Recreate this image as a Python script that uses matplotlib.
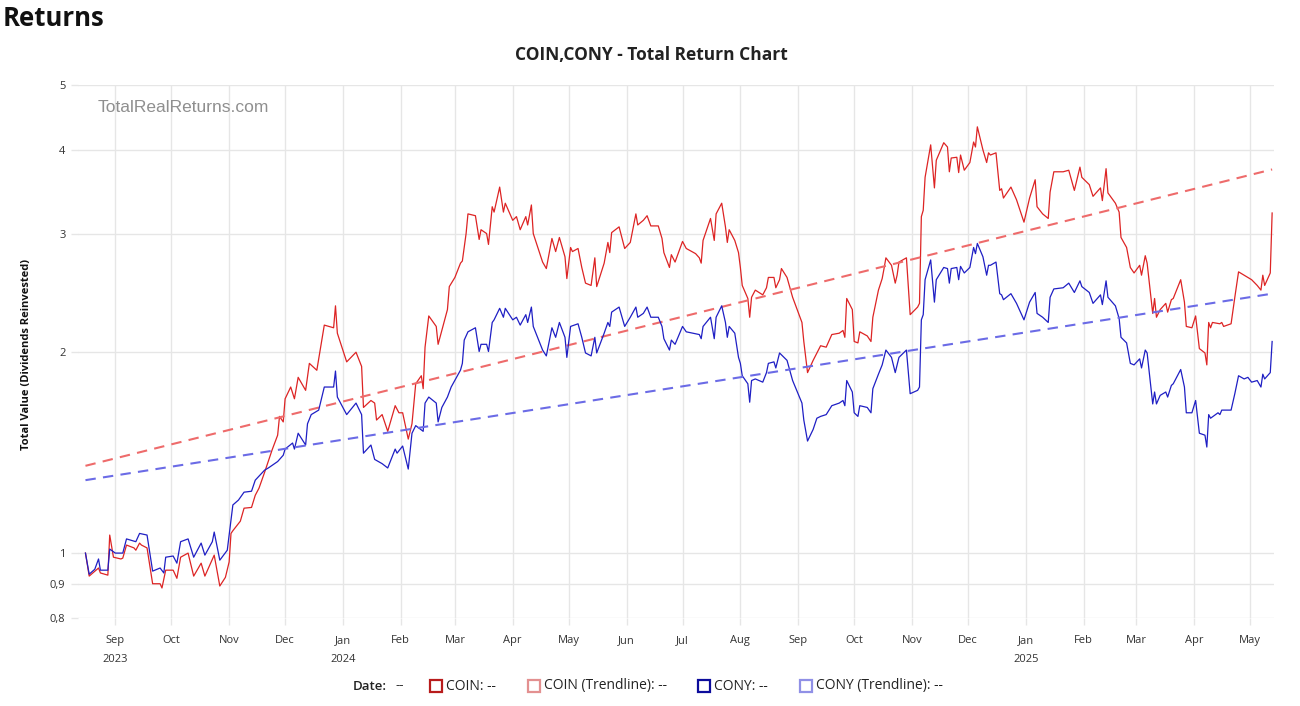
import matplotlib
matplotlib.use("Agg")
import matplotlib.pyplot as plt
from matplotlib.patches import Rectangle
from matplotlib.ticker import NullLocator
import pandas as pd

# Total value (dividends reinvested)
coin_points = [
    ("2023-08-16", 1.00), ("2023-08-18", 0.924), ("2023-08-23", 0.95), ("2023-08-24", 0.934),
    ("2023-08-28", 0.927), ("2023-08-29", 1.064), ("2023-08-31", 0.986),
    ("2023-09-04", 0.98), ("2023-09-05", 0.983), ("2023-09-07", 1.028), ("2023-09-11", 1.018),
    ("2023-09-12", 1.01), ("2023-09-14", 1.035), ("2023-09-15", 1.028), ("2023-09-18", 1.018),
    ("2023-09-21", 0.90), ("2023-09-25", 0.90), ("2023-09-26", 0.887), ("2023-09-28", 0.943),
    ("2023-10-02", 0.943), ("2023-10-04", 0.917), ("2023-10-06", 0.986), ("2023-10-10", 1.00),
    ("2023-10-13", 0.924), ("2023-10-17", 0.966), ("2023-10-19", 0.924), ("2023-10-24", 0.993),
    ("2023-10-27", 0.893), ("2023-10-30", 0.92),
    ("2023-11-01", 0.97), ("2023-11-02", 1.07), ("2023-11-03", 1.08), ("2023-11-07", 1.116),
    ("2023-11-09", 1.167), ("2023-11-13", 1.17), ("2023-11-15", 1.22), ("2023-11-17", 1.25),
    ("2023-11-20", 1.32), ("2023-11-24", 1.425), ("2023-11-27", 1.50), ("2023-11-28", 1.60),
    ("2023-11-30", 1.57),
    ("2023-12-01", 1.70), ("2023-12-04", 1.77), ("2023-12-06", 1.70), ("2023-12-08", 1.83),
    ("2023-12-12", 1.75), ("2023-12-14", 1.92), ("2023-12-18", 1.875), ("2023-12-22", 2.19),
    ("2023-12-27", 2.17), ("2023-12-28", 2.34), ("2023-12-29", 2.13),
    ("2024-01-03", 1.93), ("2024-01-08", 1.995), ("2024-01-11", 1.90), ("2024-01-12", 1.65),
    ("2024-01-16", 1.69), ("2024-01-18", 1.675), ("2024-01-19", 1.58), ("2024-01-22", 1.61),
    ("2024-01-25", 1.52), ("2024-01-29", 1.66), ("2024-01-31", 1.62),
    ("2024-02-02", 1.62), ("2024-02-05", 1.48), ("2024-02-07", 1.56), ("2024-02-09", 1.79),
    ("2024-02-12", 1.84), ("2024-02-13", 1.76), ("2024-02-14", 2.03), ("2024-02-16", 2.26),
    ("2024-02-20", 2.18), ("2024-02-21", 2.05), ("2024-02-23", 2.15), ("2024-02-26", 2.31),
    ("2024-02-27", 2.50),
    ("2024-03-01", 2.58), ("2024-03-04", 2.71), ("2024-03-05", 2.73), ("2024-03-07", 3.00),
    ("2024-03-08", 3.21), ("2024-03-12", 3.19), ("2024-03-14", 2.94), ("2024-03-15", 3.04),
    ("2024-03-18", 3.00), ("2024-03-19", 2.89), ("2024-03-21", 3.29), ("2024-03-22", 3.23),
    ("2024-03-25", 3.52), ("2024-03-27", 3.23), ("2024-03-28", 3.33),
    ("2024-04-01", 3.14), ("2024-04-03", 3.18), ("2024-04-05", 3.04), ("2024-04-08", 3.18),
    ("2024-04-09", 3.09), ("2024-04-11", 3.31), ("2024-04-12", 3.00), ("2024-04-17", 2.72),
    ("2024-04-19", 2.66), ("2024-04-22", 2.95), ("2024-04-24", 2.82), ("2024-04-26", 2.96),
    ("2024-04-29", 2.77), ("2024-04-30", 2.57),
    ("2024-05-02", 2.86), ("2024-05-03", 2.82), ("2024-05-06", 2.85), ("2024-05-08", 2.67),
    ("2024-05-10", 2.53), ("2024-05-13", 2.51), ("2024-05-15", 2.76), ("2024-05-16", 2.50),
    ("2024-05-20", 2.71), ("2024-05-22", 2.91), ("2024-05-23", 2.81), ("2024-05-24", 3.01),
    ("2024-05-28", 3.07), ("2024-05-31", 2.85),
    ("2024-06-03", 2.91), ("2024-06-06", 3.21), ("2024-06-07", 3.09), ("2024-06-10", 3.14),
    ("2024-06-12", 3.19), ("2024-06-14", 3.08), ("2024-06-18", 3.08), ("2024-06-20", 2.95),
    ("2024-06-21", 2.81), ("2024-06-24", 2.67), ("2024-06-25", 2.79), ("2024-06-27", 2.72),
    ("2024-07-01", 2.92), ("2024-07-03", 2.85), ("2024-07-08", 2.80), ("2024-07-10", 2.76),
    ("2024-07-11", 2.71), ("2024-07-12", 2.93), ("2024-07-16", 3.16), ("2024-07-18", 2.93),
    ("2024-07-19", 3.21), ("2024-07-22", 3.33), ("2024-07-24", 3.07), ("2024-07-25", 2.91),
    ("2024-07-26", 3.04), ("2024-07-29", 2.93), ("2024-07-31", 2.81),
    ("2024-08-01", 2.67), ("2024-08-02", 2.51), ("2024-08-05", 2.40), ("2024-08-06", 2.25),
    ("2024-08-07", 2.41), ("2024-08-09", 2.47), ("2024-08-13", 2.43), ("2024-08-15", 2.49),
    ("2024-08-16", 2.58), ("2024-08-19", 2.58), ("2024-08-20", 2.49), ("2024-08-22", 2.56),
    ("2024-08-23", 2.66), ("2024-08-26", 2.58), ("2024-08-29", 2.41),
    ("2024-09-03", 2.21), ("2024-09-04", 2.07), ("2024-09-06", 1.86), ("2024-09-09", 1.94),
    ("2024-09-11", 1.99), ("2024-09-13", 2.04), ("2024-09-16", 2.03), ("2024-09-19", 2.12),
    ("2024-09-23", 2.13), ("2024-09-25", 2.15), ("2024-09-26", 2.10), ("2024-09-27", 2.40),
    ("2024-09-30", 2.31),
    ("2024-10-01", 2.07), ("2024-10-03", 2.06), ("2024-10-04", 2.14), ("2024-10-08", 2.11),
    ("2024-10-10", 2.07), ("2024-10-11", 2.25), ("2024-10-14", 2.47), ("2024-10-16", 2.57),
    ("2024-10-17", 2.66), ("2024-10-18", 2.76), ("2024-10-21", 2.69), ("2024-10-23", 2.53),
    ("2024-10-24", 2.60), ("2024-10-25", 2.72), ("2024-10-29", 2.76), ("2024-10-31", 2.27),
    ("2024-11-04", 2.33), ("2024-11-05", 2.36), ("2024-11-06", 3.18), ("2024-11-07", 3.25),
    ("2024-11-08", 3.64), ("2024-11-11", 4.07), ("2024-11-13", 3.51), ("2024-11-14", 3.86),
    ("2024-11-18", 4.10), ("2024-11-20", 4.04), ("2024-11-21", 3.71), ("2024-11-22", 3.89),
    ("2024-11-25", 3.90), ("2024-11-26", 3.70), ("2024-11-27", 3.93), ("2024-11-29", 3.73),
    ("2024-12-02", 3.83), ("2024-12-04", 4.11), ("2024-12-05", 4.04), ("2024-12-06", 4.33),
    ("2024-12-09", 4.00), ("2024-12-11", 3.83), ("2024-12-12", 3.96), ("2024-12-13", 3.93),
    ("2024-12-16", 3.96), ("2024-12-18", 3.48), ("2024-12-19", 3.50), ("2024-12-20", 3.39),
    ("2024-12-24", 3.52), ("2024-12-27", 3.37), ("2024-12-31", 3.12),
    ("2025-01-03", 3.39), ("2025-01-06", 3.61), ("2025-01-07", 3.29), ("2025-01-10", 3.21),
    ("2025-01-13", 3.16), ("2025-01-14", 3.46), ("2025-01-16", 3.71), ("2025-01-21", 3.71),
    ("2025-01-24", 3.73), ("2025-01-27", 3.48), ("2025-01-30", 3.77), ("2025-01-31", 3.64),
    ("2025-02-04", 3.55), ("2025-02-06", 3.41), ("2025-02-10", 3.51), ("2025-02-11", 3.36),
    ("2025-02-13", 3.75), ("2025-02-14", 3.45), ("2025-02-18", 3.33), ("2025-02-20", 3.23),
    ("2025-02-21", 2.96), ("2025-02-24", 2.86), ("2025-02-26", 2.67), ("2025-02-28", 2.62),
    ("2025-03-03", 2.69), ("2025-03-04", 2.60), ("2025-03-06", 2.78), ("2025-03-07", 2.71),
    ("2025-03-10", 2.28), ("2025-03-11", 2.40), ("2025-03-12", 2.25), ("2025-03-14", 2.31),
    ("2025-03-17", 2.36), ("2025-03-18", 2.29), ("2025-03-20", 2.39), ("2025-03-21", 2.40),
    ("2025-03-25", 2.56), ("2025-03-27", 2.37), ("2025-03-28", 2.18), ("2025-03-31", 2.17),
    ("2025-04-02", 2.26), ("2025-04-04", 2.02), ("2025-04-07", 1.99), ("2025-04-08", 1.91),
    ("2025-04-09", 2.21), ("2025-04-10", 2.17), ("2025-04-11", 2.21), ("2025-04-15", 2.20),
    ("2025-04-16", 2.21), ("2025-04-17", 2.18), ("2025-04-21", 2.20), ("2025-04-23", 2.41),
    ("2025-04-25", 2.63), ("2025-04-28", 2.60), ("2025-04-30", 2.58),
    ("2025-05-02", 2.56), ("2025-05-05", 2.51), ("2025-05-07", 2.47), ("2025-05-08", 2.60),
    ("2025-05-09", 2.51), ("2025-05-12", 2.62), ("2025-05-13", 3.22),
]

cony_points = [
    ("2023-08-16", 1.00), ("2023-08-18", 0.93), ("2023-08-21", 0.946), ("2023-08-23", 0.98),
    ("2023-08-24", 0.943), ("2023-08-28", 0.943), ("2023-08-29", 1.014),
    ("2023-09-01", 1.00), ("2023-09-05", 1.00), ("2023-09-07", 1.05), ("2023-09-12", 1.04),
    ("2023-09-14", 1.07), ("2023-09-18", 1.064), ("2023-09-21", 0.94), ("2023-09-25", 0.95),
    ("2023-09-27", 0.934), ("2023-09-28", 0.986),
    ("2023-10-02", 0.99), ("2023-10-04", 0.966), ("2023-10-06", 1.04), ("2023-10-10", 1.05),
    ("2023-10-13", 0.986), ("2023-10-17", 1.035), ("2023-10-19", 0.993), ("2023-10-23", 1.04),
    ("2023-10-24", 1.075), ("2023-10-27", 0.976), ("2023-10-31", 1.01),
    ("2023-11-03", 1.18), ("2023-11-06", 1.20), ("2023-11-09", 1.233), ("2023-11-13", 1.237),
    ("2023-11-15", 1.285), ("2023-11-20", 1.33), ("2023-11-22", 1.34), ("2023-11-27", 1.37),
    ("2023-11-30", 1.40),
    ("2023-12-01", 1.43), ("2023-12-05", 1.46), ("2023-12-06", 1.43), ("2023-12-08", 1.51),
    ("2023-12-12", 1.45), ("2023-12-13", 1.56), ("2023-12-15", 1.61), ("2023-12-19", 1.635),
    ("2023-12-22", 1.77), ("2023-12-27", 1.77), ("2023-12-28", 1.87), ("2023-12-29", 1.71),
    ("2024-01-03", 1.61), ("2024-01-08", 1.675), ("2024-01-11", 1.61), ("2024-01-12", 1.41),
    ("2024-01-16", 1.45), ("2024-01-18", 1.38), ("2024-01-22", 1.36), ("2024-01-25", 1.34),
    ("2024-01-29", 1.43), ("2024-01-30", 1.41),
    ("2024-02-02", 1.445), ("2024-02-05", 1.335), ("2024-02-07", 1.51), ("2024-02-09", 1.55),
    ("2024-02-13", 1.52), ("2024-02-14", 1.675), ("2024-02-16", 1.71), ("2024-02-20", 1.675),
    ("2024-02-21", 1.57), ("2024-02-23", 1.65), ("2024-02-26", 1.71), ("2024-02-28", 1.77),
    ("2024-03-04", 1.876), ("2024-03-05", 1.92), ("2024-03-06", 2.08), ("2024-03-08", 2.14),
    ("2024-03-12", 2.17), ("2024-03-14", 2.00), ("2024-03-15", 2.05), ("2024-03-18", 2.05),
    ("2024-03-19", 2.00), ("2024-03-21", 2.21), ("2024-03-22", 2.23), ("2024-03-25", 2.32),
    ("2024-03-27", 2.25), ("2024-03-28", 2.32),
    ("2024-04-01", 2.23), ("2024-04-03", 2.25), ("2024-04-05", 2.19), ("2024-04-08", 2.27),
    ("2024-04-09", 2.21), ("2024-04-11", 2.33), ("2024-04-12", 2.18), ("2024-04-17", 2.01),
    ("2024-04-19", 1.97), ("2024-04-22", 2.17), ("2024-04-24", 2.10), ("2024-04-26", 2.21),
    ("2024-04-29", 2.10), ("2024-04-30", 1.96),
    ("2024-05-02", 2.18), ("2024-05-06", 2.20), ("2024-05-08", 2.10), ("2024-05-10", 1.99),
    ("2024-05-13", 1.97), ("2024-05-15", 2.10), ("2024-05-16", 1.99), ("2024-05-20", 2.13),
    ("2024-05-22", 2.21), ("2024-05-23", 2.18), ("2024-05-24", 2.29), ("2024-05-28", 2.33),
    ("2024-05-31", 2.18),
    ("2024-06-03", 2.25), ("2024-06-06", 2.33), ("2024-06-07", 2.25), ("2024-06-10", 2.28),
    ("2024-06-12", 2.33), ("2024-06-14", 2.25), ("2024-06-18", 2.25), ("2024-06-20", 2.18),
    ("2024-06-21", 2.09), ("2024-06-24", 2.01), ("2024-06-25", 2.08), ("2024-06-27", 2.05),
    ("2024-07-01", 2.18), ("2024-07-03", 2.14), ("2024-07-10", 2.12), ("2024-07-11", 2.09),
    ("2024-07-12", 2.18), ("2024-07-16", 2.25), ("2024-07-18", 2.09), ("2024-07-19", 2.25),
    ("2024-07-22", 2.34), ("2024-07-24", 2.21), ("2024-07-25", 2.10), ("2024-07-26", 2.18),
    ("2024-07-29", 2.13), ("2024-07-31", 1.96),
    ("2024-08-01", 1.92), ("2024-08-02", 1.84), ("2024-08-05", 1.79), ("2024-08-06", 1.68),
    ("2024-08-07", 1.81), ("2024-08-09", 1.82), ("2024-08-13", 1.80), ("2024-08-15", 1.86),
    ("2024-08-16", 1.92), ("2024-08-19", 1.93), ("2024-08-20", 1.89), ("2024-08-22", 1.99),
    ("2024-08-26", 1.94), ("2024-08-29", 1.81),
    ("2024-09-03", 1.675), ("2024-09-04", 1.58), ("2024-09-06", 1.47), ("2024-09-09", 1.53),
    ("2024-09-11", 1.59), ("2024-09-13", 1.60), ("2024-09-16", 1.61), ("2024-09-19", 1.66),
    ("2024-09-23", 1.675), ("2024-09-25", 1.69), ("2024-09-26", 1.66), ("2024-09-27", 1.81),
    ("2024-09-30", 1.74),
    ("2024-10-01", 1.62), ("2024-10-03", 1.60), ("2024-10-04", 1.66), ("2024-10-08", 1.65),
    ("2024-10-10", 1.62), ("2024-10-11", 1.76), ("2024-10-14", 1.85), ("2024-10-16", 1.91),
    ("2024-10-18", 2.01), ("2024-10-21", 1.96), ("2024-10-23", 1.86), ("2024-10-24", 1.91),
    ("2024-10-25", 1.96), ("2024-10-29", 2.01), ("2024-10-31", 1.73),
    ("2024-11-04", 1.75), ("2024-11-05", 1.77), ("2024-11-06", 2.23), ("2024-11-07", 2.27),
    ("2024-11-08", 2.56), ("2024-11-11", 2.74), ("2024-11-13", 2.37), ("2024-11-14", 2.56),
    ("2024-11-18", 2.67), ("2024-11-20", 2.66), ("2024-11-21", 2.53), ("2024-11-22", 2.66),
    ("2024-11-25", 2.67), ("2024-11-26", 2.56), ("2024-11-27", 2.68), ("2024-11-29", 2.62),
    ("2024-12-02", 2.67), ("2024-12-04", 2.86), ("2024-12-05", 2.80), ("2024-12-06", 2.90),
    ("2024-12-09", 2.77), ("2024-12-11", 2.60), ("2024-12-12", 2.69), ("2024-12-13", 2.69),
    ("2024-12-16", 2.72), ("2024-12-18", 2.44), ("2024-12-19", 2.43), ("2024-12-20", 2.39),
    ("2024-12-24", 2.44), ("2024-12-27", 2.36), ("2024-12-31", 2.23),
    ("2025-01-03", 2.37), ("2025-01-06", 2.45), ("2025-01-07", 2.28), ("2025-01-10", 2.25),
    ("2025-01-13", 2.21), ("2025-01-14", 2.41), ("2025-01-16", 2.48), ("2025-01-21", 2.49),
    ("2025-01-24", 2.53), ("2025-01-27", 2.45), ("2025-01-30", 2.55), ("2025-01-31", 2.50),
    ("2025-02-04", 2.45), ("2025-02-06", 2.36), ("2025-02-10", 2.43), ("2025-02-11", 2.35),
    ("2025-02-13", 2.55), ("2025-02-14", 2.41), ("2025-02-18", 2.34), ("2025-02-20", 2.24),
    ("2025-02-21", 2.10), ("2025-02-24", 2.06), ("2025-02-26", 1.92), ("2025-02-28", 1.91),
    ("2025-03-03", 1.95), ("2025-03-04", 1.89), ("2025-03-06", 2.01), ("2025-03-07", 1.99),
    ("2025-03-10", 1.67), ("2025-03-11", 1.74), ("2025-03-12", 1.67), ("2025-03-14", 1.72),
    ("2025-03-17", 1.74), ("2025-03-18", 1.71), ("2025-03-20", 1.78), ("2025-03-21", 1.79),
    ("2025-03-25", 1.88), ("2025-03-27", 1.77), ("2025-03-28", 1.62), ("2025-03-31", 1.62),
    ("2025-04-02", 1.69), ("2025-04-04", 1.51), ("2025-04-07", 1.50), ("2025-04-08", 1.44),
    ("2025-04-09", 1.61), ("2025-04-10", 1.59), ("2025-04-14", 1.62), ("2025-04-15", 1.61),
    ("2025-04-16", 1.635), ("2025-04-21", 1.635), ("2025-04-23", 1.73), ("2025-04-25", 1.84),
    ("2025-04-28", 1.82), ("2025-04-30", 1.83),
    ("2025-05-02", 1.80), ("2025-05-05", 1.81), ("2025-05-07", 1.77), ("2025-05-08", 1.85),
    ("2025-05-09", 1.82), ("2025-05-12", 1.86), ("2025-05-13", 2.07),
]

# exponential trendlines (straight on the log axis): start / end values
trend_dates = ["2023-08-16", "2025-05-13"]
coin_trend = [1.35, 3.74]
cony_trend = [1.285, 2.44]

y_ticks = [0.8, 0.9, 1, 2, 3, 4, 5]
y_tick_labels = ["0,8", "0,9", "1", "2", "3", "4", "5"]

coin = pd.DataFrame(coin_points, columns=["date", "value"])
cony = pd.DataFrame(cony_points, columns=["date", "value"])
coin["date"] = pd.to_datetime(coin["date"])
cony["date"] = pd.to_datetime(cony["date"])
tdates = pd.to_datetime(trend_dates)

plt.rcParams["font.family"] = ["Open Sans", "DejaVu Sans"]

W, H = 1300, 706
fig = plt.figure(figsize=(W / 100, H / 100), dpi=100)
ax = fig.add_axes([78 / W, 1 - 618 / H, (1274 - 78) / W, (618 - 85) / H])

ax.plot(coin["date"], coin["value"], color="#dd2424", lw=0.9, zorder=3)
ax.plot(tdates, coin_trend, color="#ee6b6b", lw=1.5, ls=(0, (5, 3.5)), zorder=4)
ax.plot(cony["date"], cony["value"], color="#1f1fc4", lw=0.9, zorder=5)
ax.plot(tdates, cony_trend, color="#6b6be6", lw=1.5, ls=(0, (5, 3.5)), zorder=6)

ax.set_yscale("log")
ax.set_ylim(0.8, 5)
ax.set_yticks(y_ticks, y_tick_labels)
ax.yaxis.set_minor_locator(NullLocator())
ax.set_xlim(pd.Timestamp("2023-08-12"), pd.Timestamp("2025-05-14"))

months = pd.date_range("2023-09-01", "2025-05-01", freq="MS")
xlabels = []
for m in months:
    lab = m.strftime("%b")
    if m.month == 1 or m == months[0]:
        lab += "\n" + str(m.year)
    xlabels.append(lab)
ax.set_xticks(months, xlabels)
for lbl in ax.get_xticklabels():
    lbl.set_linespacing(2.05)
    lbl.set_verticalalignment("top")

ax.grid(True, color="#e6e6e6", lw=1)
ax.set_axisbelow(True)
for s in ax.spines.values():
    s.set_visible(False)
ax.tick_params(axis="both", length=5, width=1, color="#e6e6e6", labelsize=8,
               labelcolor="#333333")
ax.tick_params(axis="x", pad=7)
ax.tick_params(axis="y", pad=4)

fig.text(98 / W, 1 - 108 / H, "TotalRealReturns.com", fontsize=12.5, color="#8f8f8f",
         family="Liberation Sans", va="center", ha="left")
fig.text(3 / W, 1 - 19 / H, "Returns", fontsize=18.5, fontweight="bold", color="#111111",
         va="center", ha="left")
fig.text(651 / W, 1 - 55 / H, "COIN,CONY - Total Return Chart", fontsize=12.5,
         fontweight="bold", color="#222222", va="center", ha="center")
fig.text(27 / W, 1 - 354 / H, "Total Value (Dividends Reinvested)", fontsize=8,
         fontweight="bold", rotation=90, va="center", ha="center", color="#111111")

# bottom legend (hover readout style)
ly = 1 - 686 / H
fig.text(353 / W, ly, "Date:", fontsize=9.5, fontweight="semibold", color="#222222", va="center")
fig.text(395 / W, ly, "--", fontsize=9.5, color="#222222", va="center")
legend_items = [
    (430, "#b81c1c", "COIN: --"),
    (528, "#e39090", "COIN (Trendline): --"),
    (698, "#0c0c9c", "CONY: --"),
    (800, "#9090e6", "CONY (Trendline): --"),
]
for x0, col, txt in legend_items:
    fig.add_artist(Rectangle((x0 / W, 1 - 692 / H), 12 / W, 12 / H, transform=fig.transFigure,
                             fill=False, edgecolor=col, lw=1.6))
    fig.text((x0 + 16) / W, ly, txt, fontsize=10, color="#222222", va="center")

fig.savefig("out.png", dpi=100)
